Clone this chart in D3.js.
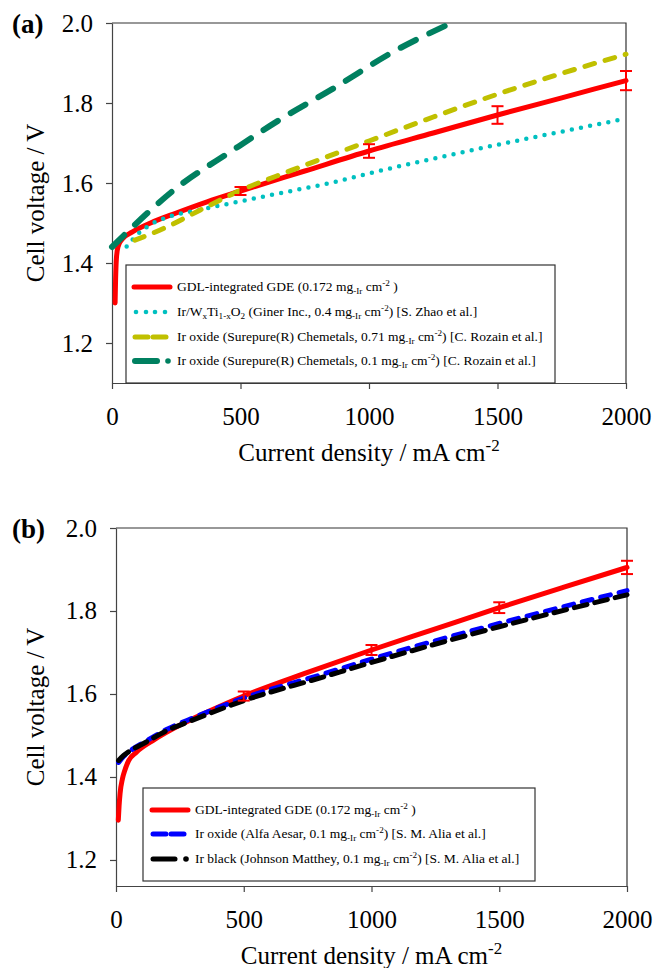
<!DOCTYPE html>
<html>
<head>
<meta charset="utf-8">
<script src="https://cdn.jsdelivr.net/npm/d3@7"></script>
<style>
  body { margin: 0; background: #fff; }
</style>
</head>
<body>
<svg width="654" height="968"></svg>
<script>
// ---- shared ticks
const currentTicks = [0, 500, 1000, 1500, 2000];
const voltageTicks = [1.2, 1.4, 1.6, 1.8, 2.0];

// ---- panel (a) data : [current density mA cm-2, cell voltage V]
const gdeA = [[12, 1.30], [14, 1.36], [17, 1.41], [23, 1.44], [40, 1.46], [78, 1.477], [150, 1.50],
  [250, 1.525], [370, 1.553], [500, 1.58], [750, 1.63], [1000, 1.68], [1250, 1.725], [1500, 1.77],
  [1750, 1.813], [2000, 1.856]];
const gdeErrA = [[500, 1.58, 0.01], [1000, 1.68, 0.017], [1500, 1.77, 0.022], [2000, 1.856, 0.024]];
const zhaoA = [[57, 1.441], [100, 1.472], [150, 1.496], [213, 1.514], [342, 1.533], [498, 1.554],
  [666, 1.576], [848, 1.600], [1000, 1.624], [1393, 1.681], [1700, 1.722], [1969, 1.757]];
const rozain071A = [[89, 1.457], [213, 1.49], [342, 1.532], [498, 1.581], [700, 1.632], [1000, 1.705],
  [1250, 1.765], [1500, 1.822], [1750, 1.874], [2000, 1.922]];
const rozain01A = [[0, 1.44], [80, 1.49], [240, 1.582], [470, 1.682], [670, 1.765], [850, 1.832],
  [1100, 1.93], [1320, 2.0]];

// ---- panel (b) data
const gdeB = [[9, 1.296], [12, 1.33], [16, 1.361], [25, 1.395], [35, 1.417], [50, 1.44], [80, 1.46],
  [150, 1.49], [250, 1.525], [370, 1.56], [500, 1.595], [750, 1.652], [1000, 1.706], [1250, 1.757],
  [1500, 1.808], [1750, 1.857], [2000, 1.905]];
const gdeErrB = [[500, 1.595, 0.011], [1000, 1.706, 0.012], [1500, 1.808, 0.013], [2000, 1.905, 0.016]];
const aliaOxideB = [[10, 1.435], [30, 1.45], [60, 1.465], [100, 1.48], [200, 1.515], [300, 1.542],
  [500, 1.59], [800, 1.646], [1000, 1.684], [1500, 1.77], [2000, 1.849]];
const aliaBlackB = [[10, 1.44], [30, 1.452], [60, 1.465], [100, 1.478], [200, 1.512], [300, 1.537],
  [500, 1.584], [800, 1.639], [1000, 1.676], [1500, 1.762], [2000, 1.839]];

// ---- legend labels (text, '' | 'sub' | 'sup')
const labelGde = [['GDL-integrated GDE  (0.172 mg', ''], ['-Ir', 'sub'], [' cm', ''], ['-2', 'sup'], [' )', '']];
const labelZhao = [['Ir/W', ''], ['x', 'sub'], ['Ti', ''], ['1-x', 'sub'], ['O', ''], ['2', 'sub'],
  [' (Giner Inc., 0.4 mg', ''], ['-Ir', 'sub'], [' cm', ''], ['-2', 'sup'], [') [S. Zhao et al.]', '']];
const labelRozain071 = [['Ir oxide (Surepure(R) Chemetals, 0.71 mg', ''], ['-Ir', 'sub'], [' cm', ''], ['-2', 'sup'],
  [') [C. Rozain et al.]', '']];
const labelRozain01 = [['Ir oxide (Surepure(R) Chemetals, 0.1 mg', ''], ['-Ir', 'sub'], [' cm', ''], ['-2', 'sup'],
  [') [C. Rozain et al.]', '']];
const labelAliaOxide = [['Ir oxide (Alfa Aesar, 0.1 mg', ''], ['-Ir', 'sub'], [' cm', ''], ['-2', 'sup'],
  [') [S. M. Alia et al.]', '']];
const labelAliaBlack = [['Ir black (Johnson Matthey, 0.1 mg', ''], ['-Ir', 'sub'], [' cm', ''], ['-2', 'sup'],
  [') [S. M. Alia et al.]', '']];

const styles = {
  gde:    { color: '#ff0000', width: 5, dash: null, key: 'solid' },
  zhao:   { color: '#00c0c0', width: 4.5, dash: '0,9.3', key: 'dots' },
  r071:   { color: '#c0c000', width: 5, dash: '10,11', key: 'dash' },
  r01:    { color: '#008060', width: 6, dash: '17,15', key: 'dashdot' },
  oxide:  { color: '#0000ff', width: 5, dash: '10,9', key: 'dash' },
  black:  { color: '#000000', width: 5, dash: '13,8', key: 'dashdot' }
};

const FONT = '"Liberation Serif", "Times New Roman", Times, "DejaVu Serif", serif';

const svg = d3.select('svg').attr('font-family', FONT);

function richText(textSel, parts, size) {
  let shift = 0;
  parts.forEach(([t, kind]) => {
    const target = kind === 'sub' ? 3 : kind === 'sup' ? -5 : 0;
    textSel.append('tspan')
      .attr('dy', target - shift)
      .attr('font-size', kind ? size * 0.68 : size)
      .text(t);
    shift = target;
  });
}

function drawPanel(p) {
  const x = d3.scaleLinear().domain([0, 2000]).range([p.left, p.right]);
  const y = d3.scaleLinear().domain(p.yDomain).range([p.bottom, p.top]);
  const g = svg.append('g');

  // ---- eixos
  const yAxis = d3.axisLeft(y).tickValues(voltageTicks).tickFormat(d3.format('.1f'))
    .tickSizeInner(6).tickSizeOuter(0).tickPadding(13);
  const xAxis = d3.axisBottom(x).tickValues(currentTicks).tickFormat(d3.format('d'))
    .tickSizeInner(6).tickSizeOuter(0).tickPadding(18);

  g.append('g').attr('transform', `translate(${p.left},0)`).call(yAxis);
  g.append('g').attr('transform', `translate(0,${p.bottom})`).call(xAxis);
  g.selectAll('g').attr('font-family', FONT);
  g.selectAll('.domain').attr('stroke', '#444').attr('stroke-width', 1.2);
  g.selectAll('.tick line').attr('stroke', '#444').attr('stroke-width', 1.2);
  g.selectAll('.tick text').attr('font-size', 25).attr('fill', '#000');

  // frame top/right
  g.append('path')
    .attr('d', `M${p.left},${p.top}H${p.right}V${p.bottom}`)
    .attr('fill', 'none').attr('stroke', '#333').attr('stroke-width', 1.2);

  // ---- títulos
  g.append('text')
    .attr('x', 12).attr('y', p.top + 10)
    .attr('font-size', 27).attr('font-weight', 700)
    .text(p.tag);

  g.append('text')
    .attr('transform', 'rotate(-90)')
    .attr('x', -(p.top + p.bottom) / 2).attr('y', 44)
    .attr('text-anchor', 'middle').attr('font-size', 25)
    .text('Cell voltage / V');

  const xt = g.append('text')
    .attr('x', (p.left + p.right) / 2).attr('y', p.bottom + 78)
    .attr('text-anchor', 'middle');
  richText(xt, [['Current density / mA cm', ''], ['-2', 'sup']], 25);
  xt.selectAll('tspan').filter((d, i) => i === 1).attr('font-size', 17).attr('dy', -10);

  // ---- curvas
  const line = d3.line().x(d => x(d[0])).y(d => y(d[1])).curve(d3.curveMonotoneX);
  p.series.forEach(s => {
    g.append('path')
      .datum(s.data)
      .attr('d', line)
      .attr('fill', 'none')
      .attr('stroke', s.style.color)
      .attr('stroke-width', s.style.width)
      .attr('stroke-linecap', 'round')
      .attr('stroke-linejoin', 'round')
      .attr('stroke-dasharray', s.style.dash);
  });

  // ---- barras de erro
  const eb = g.append('g').attr('stroke', '#ff0000').attr('stroke-width', 2);
  p.errors.forEach(([cx, v, e]) => {
    const px = x(cx);
    eb.append('line').attr('x1', px).attr('x2', px).attr('y1', y(v - e)).attr('y2', y(v + e));
    eb.append('line').attr('x1', px - 6).attr('x2', px + 6).attr('y1', y(v - e)).attr('y2', y(v - e));
    eb.append('line').attr('x1', px - 6).attr('x2', px + 6).attr('y1', y(v + e)).attr('y2', y(v + e));
  });

  // ---- legenda
  const L = p.legend;
  const lg = g.append('g');
  lg.append('rect')
    .attr('x', L.x0).attr('y', L.y0).attr('width', L.x1 - L.x0).attr('height', L.y1 - L.y0)
    .attr('fill', '#fff').attr('stroke', '#333').attr('stroke-width', 1.2);

  p.series.forEach((s, i) => {
    const cy = L.rows[i];
    const st = s.style;
    const sx = L.sx;
    const item = lg.append('g')
      .attr('stroke', st.color).attr('stroke-width', st.width).attr('stroke-linecap', 'round');
    if (st.key === 'solid') {
      item.append('line').attr('x1', sx).attr('x2', sx + 36).attr('y1', cy).attr('y2', cy);
    } else if (st.key === 'dots') {
      [2, 12, 21, 31].forEach(o => item.append('circle').attr('cx', sx + o).attr('cy', cy).attr('r', 2.3)
        .attr('fill', st.color).attr('stroke', 'none'));
    } else if (st.key === 'dash') {
      item.append('line').attr('x1', sx + 1).attr('x2', sx + 14).attr('y1', cy).attr('y2', cy);
      item.append('line').attr('x1', sx + 19).attr('x2', sx + 32).attr('y1', cy).attr('y2', cy);
    } else {
      item.append('line').attr('x1', sx + 1).attr('x2', sx + 23).attr('y1', cy).attr('y2', cy);
      item.append('circle').attr('cx', sx + 34).attr('cy', cy).attr('r', 2.8)
        .attr('fill', st.color).attr('stroke', 'none');
    }
    const t = lg.append('text').attr('x', L.tx).attr('y', cy + 4);
    richText(t, s.label, 13.5);
  });
}

drawPanel({
  tag: '(a)', left: 112, right: 626, top: 23, bottom: 383, yDomain: [1.1, 2.0],
  series: [
    { data: gdeA, style: styles.gde, label: labelGde },
    { data: zhaoA, style: styles.zhao, label: labelZhao },
    { data: rozain071A, style: styles.r071, label: labelRozain071 },
    { data: rozain01A, style: styles.r01, label: labelRozain01 }
  ],
  errors: gdeErrA,
  legend: { x0: 126, x1: 555, y0: 265, y1: 383, sx: 134, tx: 177, rows: [287, 312, 337, 361] }
});

drawPanel({
  tag: '(b)', left: 116, right: 627, top: 528, bottom: 886, yDomain: [1.1373, 2.0],
  series: [
    { data: gdeB, style: styles.gde, label: labelGde },
    { data: aliaOxideB, style: styles.oxide, label: labelAliaOxide },
    { data: aliaBlackB, style: styles.black, label: labelAliaBlack }
  ],
  errors: gdeErrB,
  legend: { x0: 143, x1: 535, y0: 788, y1: 881, sx: 152, tx: 195, rows: [810, 834, 859] }
});
</script>
</body>
</html>
